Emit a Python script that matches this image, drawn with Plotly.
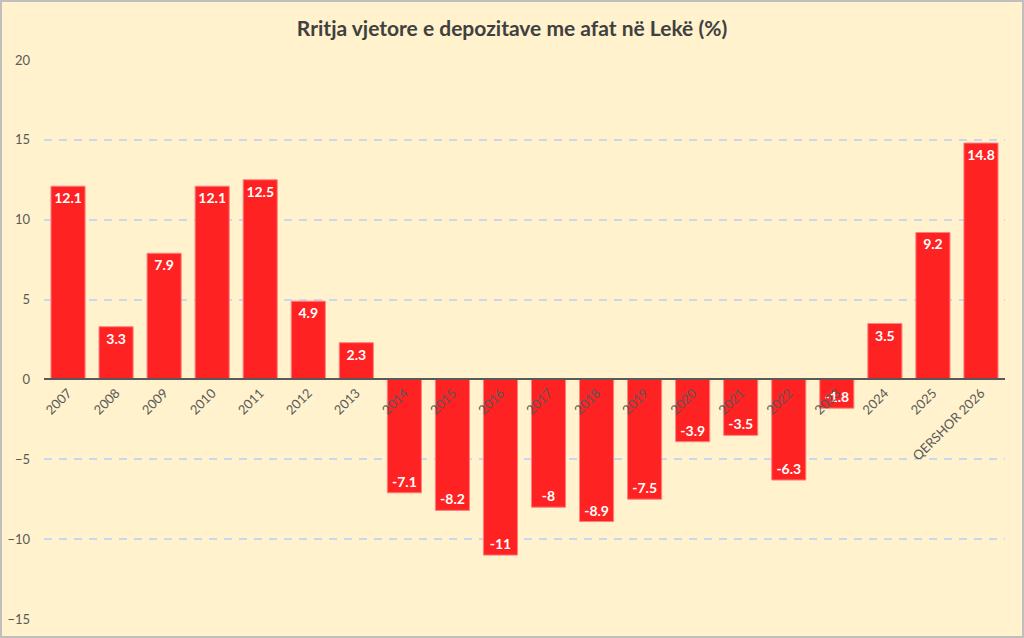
import plotly.graph_objects as go

categories = ["2007", "2008", "2009", "2010", "2011", "2012", "2013", "2014", "2015", "2016",
              "2017", "2018", "2019", "2020", "2021", "2022", "2023", "2024", "2025", "QERSHOR 2026"]
values = [12.1, 3.3, 7.9, 12.1, 12.5, 4.9, 2.3, -7.1, -8.2, -11, -8, -8.9, -7.5, -3.9, -3.5,
          -6.3, -1.8, 3.5, 9.2, 14.8]
labels = ["12.1", "3.3", "7.9", "12.1", "12.5", "4.9", "2.3", "-7.1", "-8.2", "-11", "-8", "-8.9",
          "-7.5", "-3.9", "-3.5", "-6.3", "-1.8", "3.5", "9.2", "14.8"]
title = "Rritja vjetore e depozitave me afat në Lekë (%)"

y_min, y_max = -15, 20

fig = go.Figure(go.Bar(
    x=categories, y=values, text=labels,
    textposition="inside", insidetextanchor="end", textangle=0,
    textfont=dict(color="white", size=14, family="Lato", weight="bold"),
    marker=dict(color="#FF2222", line=dict(color="#FF8080", width=1)),
    cliponaxis=False,
))

bg = "#FFF2CC"
L, R, T, B = 44, 19, 60, 19
fig.update_layout(
    width=1024, height=638,
    paper_bgcolor=bg, plot_bgcolor=bg,
    margin=dict(l=L, r=R, t=T, b=B, autoexpand=False),
    bargap=0.29,
    showlegend=False,
    title=dict(text="<b>" + title + "</b>", x=0.5, xanchor="center", y=0.955, yanchor="middle",
               font=dict(family="Lato", size=21, color="#404040")),
    font=dict(family="Lato", color="#595959", size=13),
    yaxis=dict(range=[y_min, y_max], dtick=5, showgrid=True, gridcolor="#C6D9F0",
               griddash="8px,7px", gridwidth=2, zeroline=False, ticks="", automargin=False,
               tickfont=dict(size=13, color="#595959"), ticklabelstandoff=13),
    xaxis=dict(anchor="free", position=(0 - y_min) / (y_max - y_min), automargin=False,
               showline=True, linecolor="#595959", linewidth=2, showgrid=False,
               tickangle=-45, ticks="", tickfont=dict(size=13, color="#595959")),
)
pw, ph = 1024 - L - R, 638 - T - B
fig.add_shape(type="rect", xref="paper", yref="paper", x0=-(L - 1) / pw, x1=1 + (R - 1) / pw,
              y0=-(B - 1) / ph, y1=1 + (T - 1) / ph, line=dict(color="#BFBFBF", width=2), layer="above")

fig.write_html("out.html", config={"displayModeBar": False},
               post_script="document.body.style.margin='0';document.body.style.overflow='hidden';")
